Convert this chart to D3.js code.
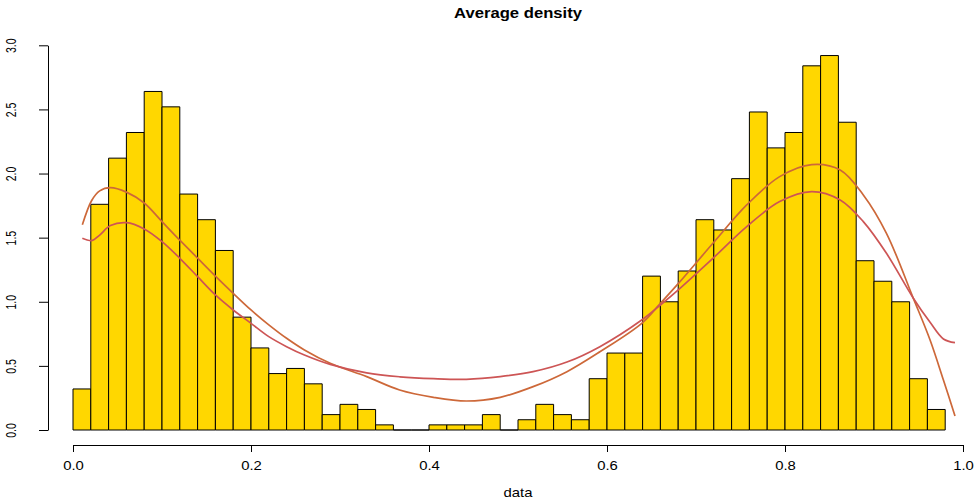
<!DOCTYPE html>
<html>
<head>
<meta charset="utf-8">
<title>Average density</title>
<script src="https://d3js.org/d3.v7.min.js"></script>
<style>
  body { margin: 0; background: #fff; }
  text { font-family: "Liberation Sans", Arial, Helvetica, sans-serif; fill: #000; }
</style>
</head>
<body>
<script>
// histogram bins: 0.00 .. 0.98, width 0.02
const binWidth = 0.02;
const binStarts = d3.range(49).map(i => +(i * binWidth).toFixed(2));
const binDensity = [
  0.32, 1.76, 2.12, 2.32, 2.64, 2.52, 1.84, 1.64, 1.40, 0.88,
  0.64, 0.44, 0.48, 0.36, 0.12, 0.20, 0.16, 0.04, 0.00, 0.00,
  0.04, 0.04, 0.04, 0.12, 0.00, 0.08, 0.20, 0.12, 0.08, 0.40,
  0.60, 0.60, 1.20, 1.00, 1.24, 1.64, 1.56, 1.96, 2.48, 2.20,
  2.32, 2.84, 2.92, 2.40, 1.32, 1.16, 1.00, 0.40, 0.16
];

// two density curves
const curveX = [0.0105, 0.021, 0.030, 0.042, 0.060, 0.080, 0.100, 0.120, 0.140, 0.160,
  0.180, 0.200, 0.220, 0.240, 0.260, 0.289, 0.330, 0.367, 0.405, 0.442,
  0.480, 0.517, 0.555, 0.592, 0.639, 0.660, 0.682, 0.719, 0.757, 0.794,
  0.830, 0.862, 0.888, 0.914, 0.944, 0.963, 0.978, 0.991];
const curveOrange = [1.60, 1.79, 1.865, 1.89, 1.855, 1.77, 1.625, 1.48, 1.34, 1.20,
  1.066, 0.936, 0.82, 0.715, 0.624, 0.52, 0.416, 0.312, 0.255, 0.226,
  0.255, 0.338, 0.455, 0.61, 0.832, 0.988, 1.157, 1.456, 1.755, 1.976,
  2.07, 2.028, 1.833, 1.534, 1.03, 0.702, 0.39, 0.109];
const curveRed = [1.495, 1.477, 1.52, 1.594, 1.617, 1.568, 1.469, 1.339, 1.196, 1.053,
  0.936, 0.832, 0.728, 0.65, 0.585, 0.512, 0.445, 0.415, 0.40, 0.395,
  0.416, 0.455, 0.53, 0.65, 0.858, 0.975, 1.105, 1.339, 1.586, 1.781,
  1.859, 1.794, 1.625, 1.378, 1.03, 0.84, 0.71, 0.681];

const xTicks = [0, 0.2, 0.4, 0.6, 0.8, 1.0];
const yTicks = [0, 0.5, 1, 1.5, 2, 2.5, 3];

const W = 976, H = 504;
const svg = d3.select("body").append("svg")
  .attr("width", W).attr("height", H);

const x = d3.scaleLinear().domain([0, 1]).range([73, 963]);
const y = d3.scaleLinear().domain([0, 3]).range([430, 45.3]);

// bars (paths so empty bins still show a line)
svg.append("g")
  .selectAll("path")
  .data(binStarts)
  .join("path")
    .attr("d", (d, i) => {
      const x0 = x(d), x1 = x(d + binWidth), y0 = y(0), y1 = y(binDensity[i]);
      return `M${x0},${y0}V${y1}H${x1}V${y0}Z`;
    })
    .attr("fill", "#FFD700")
    .attr("stroke", "#000")
    .attr("stroke-width", 1);

// density lines
const line = d3.line()
  .x((d, i) => x(curveX[i]))
  .y(d => y(d))
  .curve(d3.curveCatmullRom.alpha(0.5));

svg.append("path").datum(curveOrange)
  .attr("fill", "none").attr("stroke", "#CD6839").attr("stroke-width", 1.7)
  .attr("d", line);
svg.append("path").datum(curveRed)
  .attr("fill", "none").attr("stroke", "#CD5555").attr("stroke-width", 1.7)
  .attr("d", line);

// x axis
const gx = svg.append("g")
  .attr("transform", "translate(0,445)")
  .call(d3.axisBottom(x).tickValues(xTicks).tickSize(7).tickSizeOuter(0)
    .tickFormat(d3.format(".1f")));
gx.select(".domain").attr("stroke", "#000");
gx.selectAll(".tick line").attr("stroke", "#000");
gx.selectAll(".tick text")
  .attr("y", 25).attr("dy", null)
  .attr("font-size", 12)
  .attr("font-family", null)
  .attr("transform", "scale(1.24,1)");

// y axis
const gy = svg.append("g")
  .attr("transform", "translate(48,0)")
  .call(d3.axisLeft(y).tickValues(yTicks).tickSize(9).tickSizeOuter(0)
    .tickFormat(d3.format(".1f")));
gy.select(".domain").attr("stroke", "#000");
gy.selectAll(".tick line").attr("stroke", "#000");
gy.selectAll(".tick text")
  .attr("x", 0).attr("y", -23).attr("dy", null)
  .attr("text-anchor", "middle")
  .attr("font-size", 10.5)
  .attr("font-family", null)
  .attr("transform", "rotate(-90) scale(1,1.4)");

// title and x label
svg.append("text")
  .attr("transform", "translate(518,18) scale(1.19,1)")
  .attr("text-anchor", "middle")
  .attr("font-size", 14)
  .attr("font-weight", "bold")
  .text("Average density");

svg.append("text")
  .attr("transform", "translate(518,497) scale(1.24,1)")
  .attr("text-anchor", "middle")
  .attr("font-size", 12)
  .text("data");
</script>
</body>
</html>
